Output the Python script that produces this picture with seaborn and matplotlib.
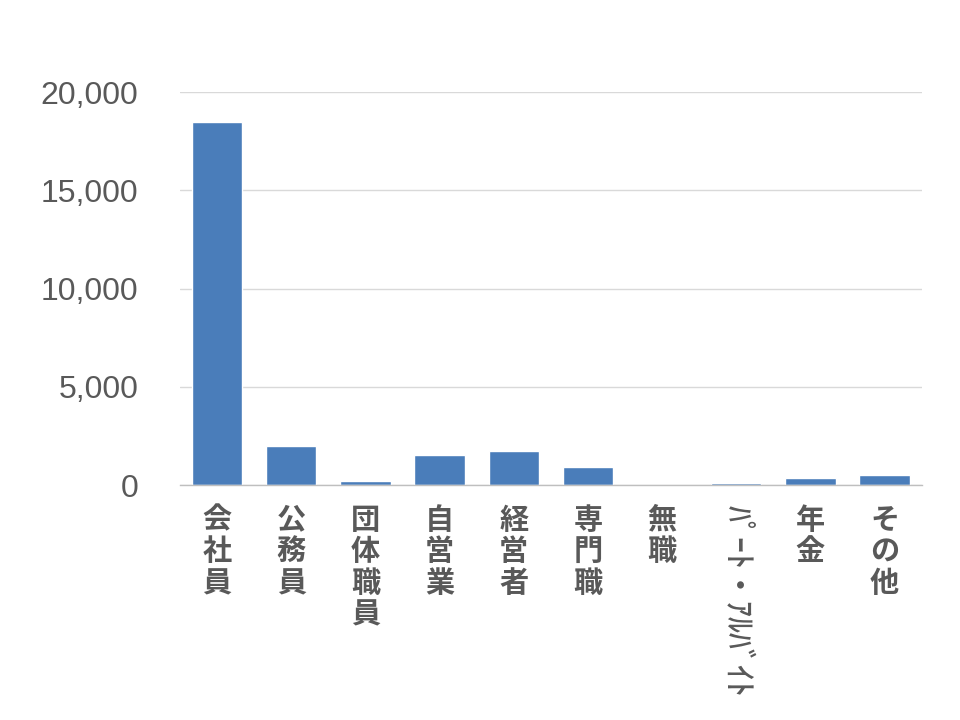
import matplotlib
matplotlib.use('Agg')
import matplotlib.pyplot as plt
import seaborn as sns
import pandas as pd
from matplotlib.ticker import FuncFormatter

# data
categories = ['会社員', '公務員', '団体職員', '自営業', '経営者', '専門職',
              '無職', 'ﾊﾟｰﾄ・ｱﾙﾊﾞｲﾄ', '年金', 'その他']
counts = [18470, 1990, 200, 1540, 1750, 930, 0, 110, 370, 525]
y_ticks = [0, 5000, 10000, 15000, 20000]

sns.set_theme(style='white')
plt.rcParams['font.family'] = ['Noto Sans CJK JP', 'DejaVu Sans']

df = pd.DataFrame({'cat': categories, 'n': counts})


def is_halfwidth(s):
    return all('\uff61' <= ch <= '\uff9f' or ch == '・' for ch in s)


def vertical(s):
    # full-width text is stacked one char per line,
    # half-width kana stays on one line and gets turned sideways later
    if is_halfwidth(s):
        return s
    return '\n'.join(s)


fig = plt.figure(figsize=(9.6, 7.2), dpi=100)
ax = fig.add_axes([0.1875, 0.326, 0.7725, 0.546])

sns.barplot(data=df, x='cat', y='n', color='#4a7dba', width=0.68,
            saturation=1, ax=ax)

ax.set_ylim(0, 20000)
ax.set_yticks(y_ticks)
ax.yaxis.set_major_formatter(FuncFormatter(lambda v, p: f'{int(v):,}'))
ax.grid(axis='y', color='#d9d9d9', linewidth=1)
ax.set_axisbelow(True)
ax.set_xlabel('')
ax.set_ylabel('')

for side in ['top', 'right', 'left']:
    ax.spines[side].set_visible(False)
ax.spines['bottom'].set_color('#bfbfbf')
ax.spines['bottom'].set_linewidth(1)

ax.set_xticks(range(len(categories)))
ax.set_xticklabels([vertical(c) for c in categories], fontsize=21,
                   color='#595959', va='top', linespacing=1.07,
                   fontweight='bold')
for t, c in zip(ax.get_xticklabels(), categories):
    if is_halfwidth(c):
        t.set_rotation(270)
        t.set_fontsize(23)
        t.set_fontweight('medium')
ax.tick_params(axis='x', length=0, pad=14)
ax.tick_params(axis='y', length=0, pad=30)
for t in ax.get_yticklabels():
    t.set_fontfamily(['Liberation Sans', 'DejaVu Sans'])
    t.set_fontsize(23)
    t.set_color('#595959')

fig.savefig('out.png', dpi=100, facecolor='white')
